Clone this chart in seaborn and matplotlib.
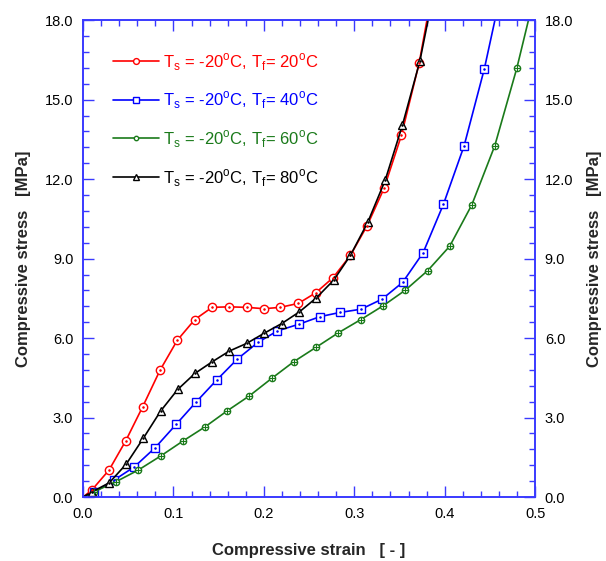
import matplotlib
matplotlib.use("Agg")
import matplotlib.pyplot as plt
import seaborn as sns
from matplotlib.ticker import MultipleLocator

# strain / stress
strain_20 = [0.0, 0.0096, 0.0288, 0.0472, 0.066, 0.0852, 0.1043, 0.1236, 0.1427, 0.1618, 0.181,
             0.2002, 0.218, 0.2382, 0.2574, 0.2765, 0.2957, 0.3142, 0.333, 0.3521, 0.3717, 0.391]
stress_20 = [0.0, 0.26, 1.02, 2.12, 3.41, 4.79, 5.92, 6.70, 7.16, 7.18, 7.16,
             7.11, 7.16, 7.31, 7.71, 8.28, 9.12, 10.24, 11.66, 13.65, 16.37, 20.0]

strain_40 = [0.0, 0.0122, 0.0343, 0.0568, 0.0800, 0.1029, 0.1254, 0.1479, 0.1707, 0.1936, 0.2149,
             0.2393, 0.2621, 0.2845, 0.3075, 0.3307, 0.3534, 0.3761, 0.3986, 0.4215, 0.4439, 0.467]
stress_40 = [0.0, 0.18, 0.64, 1.14, 1.87, 2.74, 3.60, 4.42, 5.21, 5.84, 6.27,
             6.53, 6.81, 6.97, 7.09, 7.47, 8.10, 9.22, 11.05, 13.26, 16.17, 19.8]

strain_60 = [0.0, 0.0122, 0.0365, 0.0612, 0.0859, 0.1103, 0.135, 0.1593, 0.184, 0.2087, 0.2331,
             0.2581, 0.2824, 0.3073, 0.3319, 0.3565, 0.3813, 0.4056, 0.43, 0.4554, 0.4798, 0.504]
stress_60 = [0.0, 0.20, 0.58, 1.02, 1.55, 2.11, 2.65, 3.25, 3.82, 4.48, 5.11,
             5.66, 6.20, 6.70, 7.22, 7.81, 8.55, 9.47, 11.03, 13.26, 16.19, 19.6]

strain_80 = [0.0, 0.0103, 0.0291, 0.0479, 0.0667, 0.0859, 0.1047, 0.1239, 0.1431, 0.1618, 0.181,
             0.2002, 0.2198, 0.2393, 0.2581, 0.2773, 0.2957, 0.3149, 0.3341, 0.3532, 0.3725, 0.391]
stress_80 = [0.0, 0.20, 0.54, 1.25, 2.22, 3.25, 4.06, 4.67, 5.11, 5.51, 5.80,
             6.18, 6.55, 6.99, 7.52, 8.19, 9.12, 10.37, 11.95, 14.03, 16.45, 19.6]

labels = [r"T$_{\mathregular{s}}$ = -20$^{\mathregular{o}}$C, T$_{\mathregular{f}}$= 20$^{\mathregular{o}}$C",
          r"T$_{\mathregular{s}}$ = -20$^{\mathregular{o}}$C, T$_{\mathregular{f}}$= 40$^{\mathregular{o}}$C",
          r"T$_{\mathregular{s}}$ = -20$^{\mathregular{o}}$C, T$_{\mathregular{f}}$= 60$^{\mathregular{o}}$C",
          r"T$_{\mathregular{s}}$ = -20$^{\mathregular{o}}$C, T$_{\mathregular{f}}$= 80$^{\mathregular{o}}$C"]

# (x, y, colour, marker, marker size, centre mark)
series = [
    (strain_20, stress_20, "#ff0000", "o", 6, "."),
    (strain_40, stress_40, "#0000ff", "s", 6, "."),
    (strain_60, stress_60, "#1a7a1a", "o", 4.5, "+"),
    (strain_80, stress_80, "#000000", "^", 6, "."),
]

sns.set_style("ticks")
plt.rcParams["font.family"] = ["Liberation Sans", "DejaVu Sans"]
plt.rcParams["mathtext.fontset"] = "custom"
plt.rcParams["mathtext.rm"] = "Liberation Sans"

frame = "#3a3aff"

fig = plt.figure(figsize=(6.06, 5.61), dpi=100)
ax = fig.add_axes([0.137, 0.114, 0.746, 0.850])

for (xs, ys, col, mk, ms, cm), lab in zip(series, labels):
    sns.lineplot(x=xs[1:], y=ys[1:], ax=ax, color=col, marker=mk, markersize=ms,
                 markerfacecolor="white", markeredgecolor=col, markeredgewidth=1.0,
                 linewidth=1.2, sort=False, label=lab, zorder=3)
    # line down to origin, no marker there
    ax.plot(xs[:2], ys[:2], color=col, linewidth=1.2, zorder=2)
    # small centre mark in each marker
    ax.plot(xs[1:], ys[1:], linestyle="none", marker=cm,
            markersize=2 if cm == "." else ms, markeredgewidth=0.8,
            color=col, zorder=4)

ax.set_xlim(0, 0.5)
ax.set_ylim(0, 18)
ax.xaxis.set_major_locator(MultipleLocator(0.1))
ax.xaxis.set_minor_locator(MultipleLocator(0.02))
ax.yaxis.set_major_locator(MultipleLocator(3.0))
ax.yaxis.set_minor_locator(MultipleLocator(0.6))
ax.set_xticks(ax.get_xticks())
ax.set_xticklabels([f"{v:.1f}" for v in ax.get_xticks()])
ax.set_yticks(ax.get_yticks())
ax.set_yticklabels([f"{v:.1f}" for v in ax.get_yticks()])
ax.set_xlim(0, 0.5)
ax.set_ylim(0, 18)

ax2 = ax.twinx()
ax2.set_ylim(0, 18)
ax2.yaxis.set_minor_locator(MultipleLocator(0.6))
ax2.set_yticks([0, 3, 6, 9, 12, 15, 18])
ax2.set_yticklabels([f"{v:.1f}" for v in [0, 3, 6, 9, 12, 15, 18]])

for a in (ax, ax2):
    for sp in a.spines.values():
        sp.set_visible(True)
        sp.set_color(frame)
        sp.set_linewidth(1.2)
    a.tick_params(which="both", direction="in", color=frame, labelsize=10.5,
                  labelcolor="black", top=True)
    a.tick_params(which="major", length=8, width=1.0, pad=7)
    a.tick_params(which="minor", length=4, width=1.0)
ax.tick_params(axis="y", which="both", right=False)
ax.tick_params(axis="x", which="both", bottom=True, top=True)
ax2.tick_params(axis="x", which="both", bottom=False, top=False)

ax.set_xlabel("Compressive strain   [ - ]", fontsize=12, fontweight="bold", labelpad=16)
ax.set_ylabel("Compressive stress   [MPa]", fontsize=12, fontweight="bold", labelpad=10)
ax2.set_ylabel("Compressive stress   [MPa]", fontsize=12, fontweight="bold", labelpad=10,
               rotation=90)

leg = ax.legend(loc="upper left", bbox_to_anchor=(0.034, 0.967), frameon=False,
                fontsize=12, labelcolor="linecolor", handlelength=2.75,
                labelspacing=1.02, handletextpad=0.2, markerscale=0.7)

fig.savefig("out.png", dpi=100)
